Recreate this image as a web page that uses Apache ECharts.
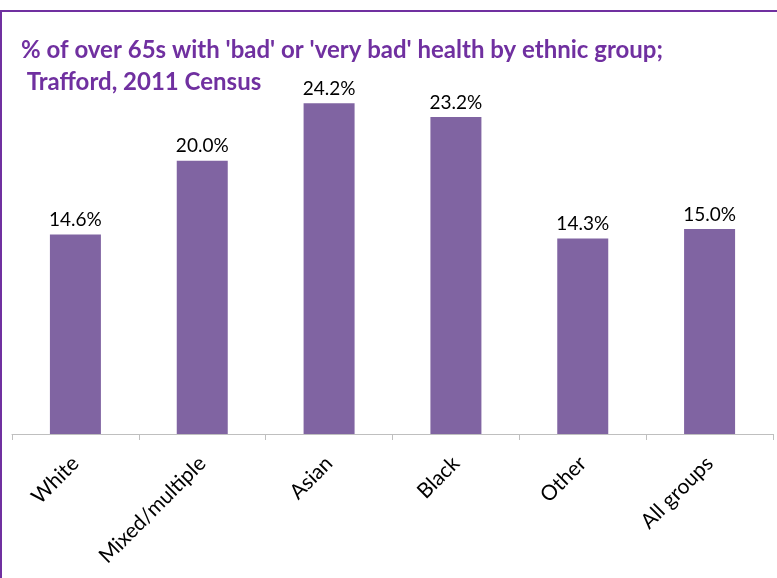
<!DOCTYPE html>
<html><head><meta charset="utf-8">
<script src="https://cdn.jsdelivr.net/npm/echarts@6/dist/echarts.min.js"></script>
<style>html,body{margin:0;padding:0;background:#fff}#c{width:777px;height:578px}</style>
</head><body><div id="c"></div>
<script>
const categories = ['White', 'Mixed/multiple', 'Asian', 'Black', 'Other', 'All groups'];
const values = [14.6, 20.0, 24.2, 23.2, 14.3, 15.0];
const titleLines = ["% of over 65s with 'bad' or 'very bad' health by ethnic group;", " Trafford, 2011 Census"];

const chart = echarts.init(document.getElementById('c'));
chart.setOption({
  animation: false,
  graphic: [{
    type: 'rect', shape: {x: 1, y: 11, width: 900, height: 700},
    style: {fill: 'none', stroke: '#7030A0', lineWidth: 2}, z: 100
  }],
  title: {
    text: titleLines.join('\n'),
    left: 21, top: 34, padding: 0,
    textStyle: {fontFamily: 'Lato', fontWeight: 'bold', fontSize: 24, color: '#7030A0', lineHeight: 32}
  },
  grid: {left: 12, right: 4, top: 24, bottom: 144},
  xAxis: {
    type: 'category', data: categories,
    axisLine: {lineStyle: {color: '#BFBFBF', width: 1}},
    axisTick: {show: true, length: 6, lineStyle: {color: '#BFBFBF'}},
    axisLabel: {rotate: 45, fontFamily: 'Lato', fontSize: 21, color: '#000', margin: 26}
  },
  yAxis: {type: 'value', min: 0, max: 30, show: false, splitLine: {show: false}},
  series: [{
    type: 'bar', data: values, barWidth: 51,
    itemStyle: {color: '#8064A2'},
    label: {show: true, position: 'top', distance: 5, formatter: p => p.value.toFixed(1) + '%',
      fontFamily: 'Lato', fontSize: 19, color: '#000'}
  }]
});
</script></body></html>
